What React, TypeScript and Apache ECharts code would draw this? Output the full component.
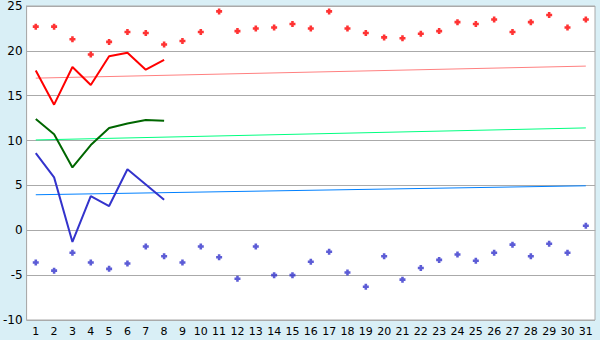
import React, { useEffect, useRef } from "react";
import * as echarts from "echarts";

const days = Array.from({ length: 31 }, (_, i) => String(i + 1));

const maxPoints = [22.7, 22.7, 21.3, 19.6, 21.0, 22.1, 22.0, 20.7, 21.1, 22.1, 24.4, 22.2, 22.5, 22.6, 23.0, 22.5, 24.4, 22.5, 22.0, 21.5, 21.4, 21.9, 22.2, 23.2, 23.0, 23.5, 22.1, 23.2, 24.0, 22.6, 23.5];
const minPoints = [-3.6, -4.5, -2.5, -3.6, -4.3, -3.7, -1.8, -2.9, -3.6, -1.8, -3.0, -5.4, -1.8, -5.0, -5.0, -3.5, -2.4, -4.7, -6.3, -2.9, -5.5, -4.2, -3.3, -2.7, -3.4, -2.5, -1.6, -2.9, -1.5, -2.5, 0.5];
const maxLine = [17.8, 14.0, 18.2, 16.2, 19.4, 19.8, 17.9, 19.0];
const meanLine = [12.4, 10.7, 7.0, 9.5, 11.4, 11.9, 12.3, 12.2];
const minLine = [8.6, 5.9, -1.3, 3.8, 2.7, 6.8, 5.1, 3.4];
const maxTrend = [[0, 16.96], [30, 18.3]];
const meanTrend = [[0, 10.07], [30, 11.41]];
const minTrend = [[0, 3.96], [30, 4.96]];

const plus = "path://M2,0H5V2H7V5H5V7H2V5H0V2H2Z";

export default function App() {
  const ref = useRef<HTMLDivElement>(null);
  useEffect(() => {
    const chart = echarts.init(ref.current!, null, { renderer: "svg" });
    const lineS = (data: any, color: string, width: number, z = 3) => ({
      type: "line",
      data,
      symbol: "none",
      lineStyle: { color, width },
      z,
    });
    const scat = (data: number[], color: string) => ({
      type: "scatter",
      data,
      symbol: plus,
      symbolSize: 6,
      itemStyle: { color },
      z: 4,
    });
    chart.setOption({
      animation: false,
      backgroundColor: "#d9eff6",
      textStyle: { fontFamily: "DejaVu Sans" },
      grid: {
        left: 26,
        top: 5,
        right: 5,
        bottom: 20,
        show: true,
        backgroundColor: "#ffffff",
        borderColor: "#aaaaaa",
        borderWidth: 1,
      },
      xAxis: {
        type: "category",
        data: days,
        boundaryGap: true,
        axisLine: { lineStyle: { color: "#aaaaaa" } },
        axisTick: { alignWithLabel: true, length: 4, lineStyle: { color: "#333" } },
        axisLabel: { color: "#000", fontSize: 11, margin: 6, interval: 0 },
        splitLine: { show: false },
      },
      yAxis: {
        type: "value",
        min: -10,
        max: 25,
        interval: 5,
        axisLine: { show: true, lineStyle: { color: "#aaaaaa" } },
        axisTick: { show: false },
        axisLabel: { color: "#000", fontSize: 12, margin: 4 },
        splitLine: { lineStyle: { color: "#aaaaaa" } },
      },
      series: [
        lineS(maxTrend, "#ff8080", 1, 2),
        lineS(meanTrend, "#00ff80", 1, 2),
        lineS(minTrend, "#0080ff", 1, 2),
        lineS(maxLine, "#ff0000", 2),
        lineS(meanLine, "#006600", 2),
        lineS(minLine, "#3333cc", 2),
        scat(maxPoints, "#ff0000"),
        scat(minPoints, "#3333cc"),
      ],
    });
    return () => chart.dispose();
  }, []);
  return (
    <div
      ref={ref}
      style={{ position: "fixed", left: 0, top: 0, width: 600, height: 340 }}
    />
  );
}
